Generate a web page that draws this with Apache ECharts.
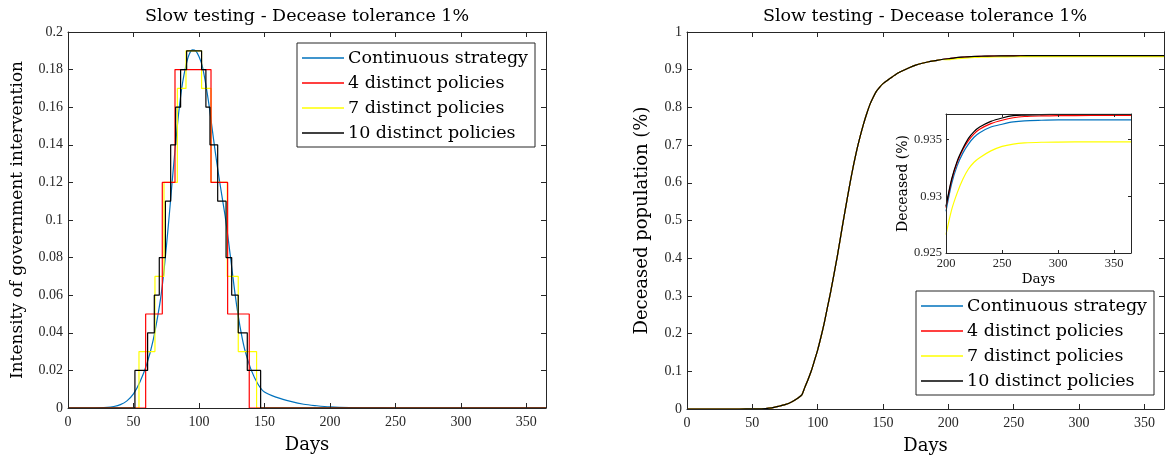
<!DOCTYPE html>
<html><head><meta charset="utf-8">
<script src="https://cdn.jsdelivr.net/npm/echarts@6/dist/echarts.min.js"></script>
<style>html,body{margin:0;padding:0;background:#fff}#c{width:1169px;height:461px}</style>
</head><body><div id="c"></div>
<script>
// ---------- data ----------
const seriesNames = ['Continuous strategy', '4 distinct policies', '7 distinct policies', '10 distinct policies'];
const seriesColors = ['#0072BD', '#FF0000', '#FFFF00', '#000000'];
const chartTitle = 'Slow testing - Decease tolerance 1%';

const xTickLabels = ['0', '50', '100', '150', '200', '250', '300', '350'];
const interventionTickLabels = ['0', '0.02', '0.04', '0.06', '0.08', '0.1', '0.12', '0.14', '0.16', '0.18', '0.2'];
const deceasedTickLabels = ['0', '0.1', '0.2', '0.3', '0.4', '0.5', '0.6', '0.7', '0.8', '0.9', '1'];
const insetXTickLabels = ['200', '250', '300', '350'];
const insetYTickLabels = ['0.925', '0.93', '0.935'];

// Left panel: intensity of government intervention
const continuousDays = [0, 20, 30, 35, 40, 45, 50, 55, 60, 65, 70, 72.5, 75, 77.5, 80, 82.5, 85, 87.5, 90, 92.5, 95, 97.5, 100, 102.5, 105, 107.5, 110, 112.5, 115, 117.5, 120, 122.5, 125, 127.5, 130, 132.5, 135, 140, 145, 150, 160, 170, 180, 190, 200, 215, 230, 250, 300, 365];
const continuousIntensity = [0, 0, 0.0003, 0.0008, 0.0018, 0.0038, 0.0075, 0.014, 0.023, 0.036, 0.055, 0.068, 0.085, 0.104, 0.124, 0.143, 0.16, 0.173, 0.182, 0.188, 0.1905, 0.19, 0.187, 0.182, 0.173, 0.162, 0.149, 0.136, 0.124, 0.113, 0.102, 0.089, 0.075, 0.061, 0.049, 0.039, 0.031, 0.020, 0.0128, 0.0085, 0.0055, 0.0035, 0.002, 0.0012, 0.0006, 0.0002, 0.0001, 0, 0, 0];

const policy4Days = [0, 59.3, 72.0, 81.7, 109.2, 121.9, 138.4, 365];
const policy4Levels = [0, 0.05, 0.12, 0.18, 0.12, 0.05, 0, 0];
const policy7Days = [0, 54.2, 66.4, 73.3, 83.5, 90.1, 102.0, 109.2, 121.6, 130.0, 144.0, 365];
const policy7Levels = [0, 0.03, 0.07, 0.12, 0.17, 0.19, 0.17, 0.12, 0.07, 0.03, 0, 0];
const policy10Days = [0, 51.1, 60.8, 65.9, 69.7, 74.4, 78.4, 82.2, 86.0, 90.6, 102.0, 105.3, 108.4, 114.3, 120.7, 125.0, 130.0, 136.9, 147.1, 365];
const policy10Levels = [0, 0.02, 0.04, 0.06, 0.08, 0.11, 0.14, 0.16, 0.18, 0.19, 0.18, 0.16, 0.14, 0.11, 0.08, 0.06, 0.04, 0.02, 0, 0];

// Right panel: deceased population, common rise (all strategies overlap before day 200)
const deceasedDays = [0, 10, 20, 30, 40, 50, 55, 60, 65, 70, 75, 80, 85, 88, 90, 92.5, 95, 97.5, 100, 102.5, 105, 107.5, 110, 112.5, 115, 117.5, 120, 122.5, 125, 127.5, 130, 132.5, 135, 137.5, 140, 142.5, 145, 147.5, 150, 155, 160, 165, 170, 175, 180, 185, 190, 195];
const deceasedShared = [0, 0, 0, 0, 0, 0.0003, 0.0006, 0.0012, 0.003, 0.007, 0.0115, 0.0186, 0.029, 0.038, 0.056, 0.077, 0.10, 0.128, 0.157, 0.191, 0.228, 0.27, 0.312, 0.358, 0.405, 0.456, 0.507, 0.556, 0.604, 0.648, 0.688, 0.723, 0.755, 0.783, 0.808, 0.827, 0.843, 0.854, 0.863, 0.876, 0.888, 0.897, 0.905, 0.912, 0.917, 0.921, 0.924, 0.927];

// Tail (day 200 onwards), shown in the inset
const tailDays = [200, 205, 210, 215, 220, 225, 230, 240, 250, 260, 270, 285, 300, 330, 365];
const tailContinuous = [0.92868, 0.9311, 0.9327, 0.9338, 0.9346, 0.9352, 0.9356, 0.9361, 0.93635, 0.93655, 0.93665, 0.9367, 0.93673, 0.93674, 0.93674];
const tail4 = [0.9290, 0.9314, 0.9330, 0.9341, 0.9349, 0.9355, 0.9359, 0.9364, 0.9367, 0.93692, 0.93703, 0.93708, 0.9371, 0.93712, 0.93712];
const tail7 = [0.92662, 0.9288, 0.9303, 0.9315, 0.9324, 0.9330, 0.9334, 0.9340, 0.9344, 0.93460, 0.93470, 0.93476, 0.93478, 0.9348, 0.9348];
const tail10 = [0.9291, 0.9315, 0.9331, 0.9342, 0.9351, 0.9357, 0.9361, 0.9366, 0.9369, 0.9371, 0.93715, 0.9372, 0.93722, 0.93723, 0.93723];

// ---------- build ----------
const zip = (a, b) => a.map((v, i) => [v, b[i]]);
const tails = [tailContinuous, tail4, tail7, tail10];
const SERIF = 'DejaVu Serif';
const NUMF = 'Liberation Serif';
const AX = '#262626';

function labelFrom(list) {
  return function (v) {
    for (const s of list) { if (Math.abs(Number(s) - v) < 1e-9) return s; }
    return '';
  };
}

function axisPair(kind, gridIndex, min, max, interval, labels, opts) {
  opts = opts || {};
  const tickLen = opts.tickLen || 5;
  const fs = opts.fontSize || 14;
  const main = {
    type: 'value', gridIndex, min, max, interval, z: 6,
    position: kind === 'x' ? 'bottom' : 'left',
    axisLine: { show: true, onZero: false, lineStyle: { color: AX, width: 1 } },
    axisTick: { show: true, inside: true, length: tickLen, lineStyle: { color: AX } },
    axisLabel: { show: true, color: AX, fontFamily: NUMF, fontSize: fs, margin: opts.margin || 6, formatter: labelFrom(labels), showMaxLabel: true, showMinLabel: true },
    splitLine: { show: false },
    name: opts.name || '', nameLocation: 'middle', nameGap: opts.nameGap || 30,
    nameTextStyle: { fontFamily: SERIF, fontSize: opts.nameSize || 18, color: '#000' }
  };
  const box = {
    type: 'value', gridIndex, min, max, interval, z: 6,
    position: kind === 'x' ? 'top' : 'right',
    axisLine: { show: true, onZero: false, lineStyle: { color: AX, width: 1 } },
    axisTick: { show: true, inside: true, length: tickLen, lineStyle: { color: AX } },
    axisLabel: { show: false }, splitLine: { show: false }
  };
  return [main, box];
}

const xAxes = [], yAxes = [];
// grid 0 (left)
xAxes.push(...axisPair('x', 0, 0, 365, 50, xTickLabels, { name: 'Days', nameGap: 28, margin: 7 }));
yAxes.push(...axisPair('y', 0, 0, 0.2, 0.02, interventionTickLabels, { name: 'Intensity of government intervention', nameGap: 42, margin: 5, nameSize: 17 }));
// grid 1 (right main)
xAxes.push(...axisPair('x', 1, 0, 365, 50, xTickLabels, { name: 'Days', nameGap: 28, margin: 7 }));
yAxes.push(...axisPair('y', 1, 0, 1, 0.1, deceasedTickLabels, { name: 'Deceased population (%)', nameGap: 36, margin: 5 }));
// grid 2 (inset)
xAxes.push(...axisPair('x', 2, 200, 365, 50, insetXTickLabels, { name: 'Days', nameGap: 19, margin: 4, fontSize: 12.5, nameSize: 13.5, tickLen: 3 }));
yAxes.push(...axisPair('y', 2, 0.925, 0.93725, 0.005, insetYTickLabels, { name: 'Deceased (%)', nameGap: 35, margin: 4, fontSize: 12.5, nameSize: 14, tickLen: 3 }));

function line(name, color, data, xi, yi, extra) {
  return Object.assign({
    name, type: 'line', data, xAxisIndex: xi, yAxisIndex: yi,
    showSymbol: false, symbol: 'none', silent: true,
    lineStyle: { color, width: 1.2 }, itemStyle: { color }
  }, extra || {});
}

const series = [];
// left panel (draw order: continuous, 7, 4, 10)
series.push(line(seriesNames[0], seriesColors[0], zip(continuousDays, continuousIntensity), 0, 0, { smooth: 0.3 }));
series.push(line(seriesNames[2], seriesColors[2], zip(policy7Days, policy7Levels), 0, 0, { step: 'end' }));
series.push(line(seriesNames[1], seriesColors[1], zip(policy4Days, policy4Levels), 0, 0, { step: 'end' }));
series.push(line(seriesNames[3], seriesColors[3], zip(policy10Days, policy10Levels), 0, 0, { step: 'end' }));
// right main
for (let k = 0; k < 4; k++) {
  const data = zip(deceasedDays, deceasedShared).concat(zip(tailDays, tails[k]));
  series.push(line(seriesNames[k], seriesColors[k], data, 2, 2, { smooth: 0.2 }));
}
// inset
for (let k = 0; k < 4; k++) {
  series.push(line(seriesNames[k], seriesColors[k], zip(tailDays, tails[k]), 4, 4, { smooth: 0.3 }));
}

const legendCommon = {
  orient: 'vertical', data: seriesNames, icon: 'rect', itemWidth: 42, itemHeight: 1.4,
  itemGap: 5, padding: [5, 7, 4, 5], borderColor: AX, borderWidth: 1, backgroundColor: '#fff',
  textStyle: { fontFamily: SERIF, fontSize: 17.5, color: '#000', lineHeight: 20, padding: [0, 0, 0, -1] },
  selectedMode: false, z: 10
};

const option = {
  animation: false,
  backgroundColor: '#fff',
  grid: [
    { left: 68, right: 623, top: 32, bottom: 53 },
    { left: 687, right: 5, top: 32, bottom: 52 },
    { left: 946, right: 38, top: 114, bottom: 208 }
  ],
  xAxis: xAxes,
  yAxis: yAxes,
  legend: [
    Object.assign({}, legendCommon, { left: 297, top: 43 }),
    Object.assign({}, legendCommon, { left: 916, top: 291 })
  ],
  graphic: [
    { type: 'text', x: 307, y: 16, style: { text: chartTitle, align: 'center', verticalAlign: 'middle', font: '17.5px "DejaVu Serif"', fill: '#000' } },
    { type: 'text', x: 925, y: 16, style: { text: chartTitle, align: 'center', verticalAlign: 'middle', font: '17.5px "DejaVu Serif"', fill: '#000' } }
  ],
  series
};

const chart = echarts.init(document.getElementById('c'), null, { renderer: 'canvas' });
chart.setOption(option);
</script>
</body></html>
